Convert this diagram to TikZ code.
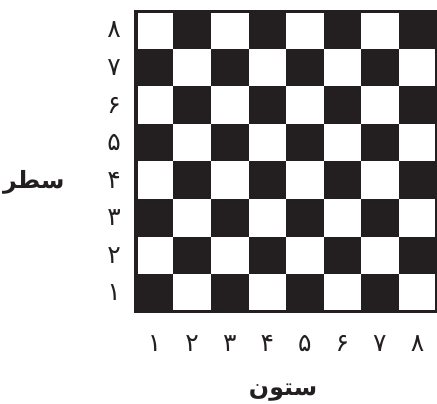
\documentclass[tikz,border=0pt]{standalone}
\usepackage{fontspec}
\usepackage{tikz}
\usetikzlibrary{positioning}
\TeXXeTstate=1
\newfontfamily\arabicfont[Script=Arabic]{DejaVu Sans}
\definecolor{ink}{HTML}{231F20}
\tikzset{
  cell/.style={fill=ink},
  frame/.style={draw=ink, line width=2.6pt},
  numlbl/.style={font=\arabicfont\fontsize{19}{19}\selectfont, text=ink, inner sep=0pt},
  axislbl/.style={font=\arabicfont\bfseries\fontsize{18}{18}\selectfont, text=ink, inner sep=0pt}
}

\begin{document}
\begin{tikzpicture}

  \useasboundingbox (-3.62,-2.45) rectangle (8.02,8.30);

  %% board
  \foreach \c in {1,...,8}
    \foreach \r in {1,...,8} {
      \pgfmathparse{int(mod(\c+\r,2))}
      \ifnum\pgfmathresult=0
        \fill[cell] (\c-1,\r-1) rectangle (\c,\r);
      \fi
    }
  \draw[frame] (0,0) rectangle (8,8);

  %% row and column numbers
  \foreach \n/\d in {1/۱,2/۲,3/۳,4/۴,5/۵,6/۶,7/۷,8/۸} {
    \node[numlbl] (row\n) at (-0.58,\n-0.5) {\d};
    \node[numlbl] (col\n) at (\n-0.5,-0.84) {\d};
  }

  %% axis names
  \node[axislbl] (rowname) at (-2.72,3.45) {\beginR سطر\endR};
  \node[axislbl] (colname) at (3.92,-2.16) {\beginR ستون\endR};

\end{tikzpicture}
\end{document}
